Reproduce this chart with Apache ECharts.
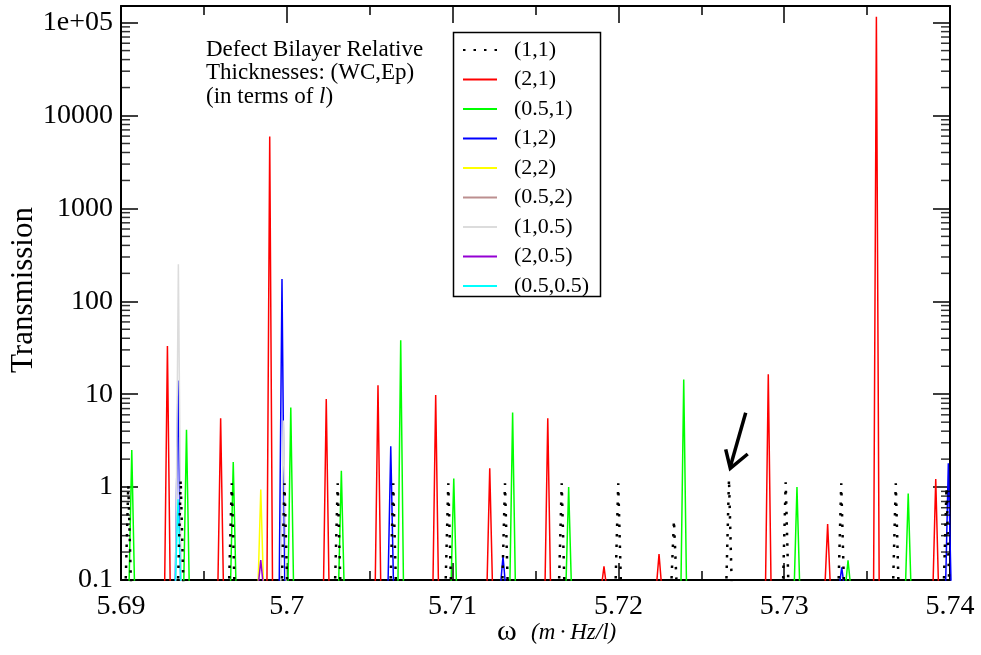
<!DOCTYPE html>
<html><head><meta charset="utf-8">
<script src="https://cdn.jsdelivr.net/npm/echarts@6/dist/echarts.min.js"></script>
<style>html,body{margin:0;padding:0;background:#fff}#c{width:981px;height:655px}</style>
</head><body><div id="c"></div>
<script>
// ---- data (peak centre ω, peak transmission) ----
const seriesNames = ['(1,1)','(2,1)','(0.5,1)','(1,2)','(2,2)','(0.5,2)','(1,0.5)','(2,0.5)','(0.5,0.5)'];
const seriesColors = ['#000000','#ff0000','#00ff00','#0000ff','#ffff00','#bc8f8f','#dcdcdc','#9400d3','#00ffff'];

const peaks_1_1 = [[5.69044,1.05],[5.69360,1.2],[5.69668,1.1],[5.69986,1.1],[5.70307,1.1],[5.70642,1.1],[5.70974,1.1],[5.71316,1.1],[5.71658,1.1],[5.71999,1.1],[5.72335,0.44],[5.72667,1.22],[5.73009,1.13],[5.73344,1.1],[5.73673,1.1],[5.73979,1.0]];
const peaks_2_1 = [[5.69280,33],[5.69601,5.5],[5.69897,5940],[5.70238,8.9],[5.70550,12.5],[5.70898,9.8],[5.71224,1.6],[5.71574,5.5],[5.71913,0.14],[5.72245,0.19],[5.72904,16.4],[5.73262,0.40],[5.73556,116000],[5.73914,1.22]];
const peaks_05_1 = [[5.69065,2.5],[5.69395,4.15],[5.69677,1.86],[5.70024,7.2],[5.70329,1.5],[5.70687,38],[5.71007,1.24],[5.71362,6.35],[5.71700,1.0],[5.72394,14.4],[5.73077,1.0],[5.73385,0.163],[5.73748,0.855]];
const peaks_1_2 = [[5.69344,14],[5.69971,174],[5.70627,2.76],[5.71304,0.18],[5.73347,0.137],[5.73990,1.8]];
const peaks_2_2 = [[5.69843,0.94]];
const peaks_05_2 = [];
const peaks_1_05 = [[5.69346,250],[5.69980,5.2]];
const peaks_2_05 = [[5.69843,0.164]];
const peaks_05_05 = [[5.69344,0.74]];
const allPeaks = [peaks_1_1,peaks_2_1,peaks_05_1,peaks_1_2,peaks_2_2,peaks_05_2,peaks_1_05,peaks_2_05,peaks_05_05];

const xMin = 5.69, xMax = 5.74, xStep = 0.01;
const yMin = 0.1, yMax = 151000;
const yDecades = [0.1,1,10,100,1000,10000];
const yMinorMult = [2,3,4,5,6,7,8,9];
const yTickLabels = {'-1':'0.1','0':'1','1':'10','2':'100','3':'1000','4':'10000','5':'1e+05'};

// ---- rendering helpers ----
const HALF = 0.00017, FLOOR = 0.08;
function spikes(list){
  const out = [];
  list.forEach(function(p){
    out.push([p[0]-HALF, FLOOR], [p[0], p[1]], [p[0]+HALF, FLOOR], [p[0]+HALF, '-']);
  });
  return out;
}
const minorVals = [];
yDecades.forEach(function(d){ yMinorMult.forEach(function(m){ minorVals.push(+(d*m).toPrecision(3)); }); });

const FONT = 'Liberation Serif';
const series = seriesNames.map(function(n,i){
  return {
    name: n, type: 'line', data: spikes(allPeaks[i]), symbol: 'none', showSymbol: false,
    connectNulls: false, clip: true, animation: false, z: i === 0 ? 4 : 2,
    lineStyle: { color: seriesColors[i], width: i === 0 ? 2.5 : 1.5, type: i === 0 ? [2.5, 8] : 'solid', cap: 'butt' },
    itemStyle: { color: seriesColors[i] }
  };
});
series.push({
  type: 'scatter', name: 'minorL', data: minorVals.map(function(v){ return [xMin, v]; }),
  symbol: 'rect', symbolSize: [9, 1.5], symbolOffset: [4.5, 0], itemStyle: { color: '#000' },
  silent: true, clip: false, animation: false, z: 5
});
series.push({
  type: 'scatter', name: 'minorR', data: minorVals.map(function(v){ return [xMax, v]; }),
  symbol: 'rect', symbolSize: [9, 1.5], symbolOffset: [-4.5, 0], itemStyle: { color: '#000' },
  silent: true, clip: false, animation: false, z: 5
});

const axisLine = { show: true, onZero: false, lineStyle: { color: '#000', width: 2 } };
const xFmt = function(v){ return String(parseFloat(v.toFixed(2))); };
const yFmt = function(v){ const l = Math.log10(v); const r = Math.round(l); return Math.abs(l - r) < 1e-6 && yTickLabels[String(r)] !== undefined ? yTickLabels[String(r)] : ''; };

const chart = echarts.init(document.getElementById('c'), null, { renderer: 'canvas' });
chart.setOption({
  animation: false,
  backgroundColor: '#fff',
  grid: { left: 121, right: 31, top: 6, bottom: 75, containLabel: false, outerBoundsMode: 'none' },
  xAxis: [
    { type: 'value', position: 'bottom', min: xMin, max: xMax, interval: xStep,
      axisLine: axisLine, splitLine: { show: false },
      axisTick: { inside: true, length: 17, lineStyle: { color: '#000', width: 1.5 } },
      minorTick: { show: true, splitNumber: 2, length: 9, lineStyle: { color: '#000', width: 1.5 } },
      axisLabel: { formatter: xFmt, fontFamily: FONT, fontSize: 28, color: '#000', margin: 13 } },
    { type: 'value', position: 'top', min: xMin, max: xMax, interval: xStep,
      axisLine: axisLine, splitLine: { show: false },
      axisTick: { inside: true, length: 17, lineStyle: { color: '#000', width: 1.5 } },
      minorTick: { show: true, splitNumber: 2, length: 9, lineStyle: { color: '#000', width: 1.5 } },
      axisLabel: { show: false } }
  ],
  yAxis: [
    { type: 'log', logBase: 10, position: 'left', min: yMin, max: yMax,
      axisLine: axisLine, splitLine: { show: false },
      axisTick: { inside: true, length: 17, lineStyle: { color: '#000', width: 1.5 } },
      axisLabel: { formatter: yFmt, fontFamily: FONT, fontSize: 28, color: '#000', margin: 8 } },
    { type: 'log', logBase: 10, position: 'right', min: yMin, max: yMax,
      axisLine: axisLine, splitLine: { show: false },
      axisTick: { inside: true, length: 17, lineStyle: { color: '#000', width: 1.5 } },
      axisLabel: { show: false } }
  ],
  legend: {
    data: seriesNames, orient: 'vertical', left: 462, top: 39, padding: 0,
    itemWidth: 34, itemHeight: 21, itemGap: 7.5, selectedMode: false,
    itemStyle: { color: 'rgba(0,0,0,0)', borderColor: 'rgba(0,0,0,0)', borderWidth: 0 },
    textStyle: { fontFamily: FONT, fontSize: 22, color: '#000', lineHeight: 21, padding: [0,0,0,12] }
  },
  graphic: [
    { type: 'rect', shape: { x: 453.5, y: 32.5, width: 147, height: 264 }, style: { fill: 'none', stroke: '#000', lineWidth: 1.5 }, z: 10, silent: true },
    { type: 'text', x: 206, y: 38, z: 10, silent: true,
      style: { text: 'Defect Bilayer Relative\nThicknesses: (WC,Ep)\n(in terms of {i|l})', font: '23px "Liberation Serif"', fill: '#000', lineHeight: 23.5,
        rich: { i: { fontStyle: 'italic', fontFamily: FONT, fontSize: 23, lineHeight: 23.5 } } } },
    { type: 'text', x: 24, y: 290, rotation: Math.PI / 2, z: 10, silent: true,
      style: { text: 'Transmission', font: '31px "Liberation Serif"', fill: '#000', align: 'center', verticalAlign: 'middle' } },
    { type: 'text', x: 497, y: 632, z: 10, silent: true,
      style: { text: 'ω', font: '30px "Liberation Serif"', fill: '#000', verticalAlign: 'middle', align: 'left' } },
    { type: 'text', x: 531, y: 633, z: 10, silent: true,
      style: { text: '(m\u2009\u2219\u2009Hz/l)', font: 'italic 23px "Liberation Serif"', fill: '#000', verticalAlign: 'middle', align: 'left' } },
    { type: 'polyline', shape: { points: [[745.7, 412.7], [730.5, 466]] }, style: { stroke: '#000', lineWidth: 3.5, fill: 'none' }, z: 10, silent: true },
    { type: 'polyline', shape: { points: [[725.7, 449.3], [730.3, 468.3], [747.7, 454]] }, style: { stroke: '#000', lineWidth: 3.5, fill: 'none', lineJoin: 'miter' }, z: 10, silent: true }
  ],
  series: series
});
</script></body></html>
